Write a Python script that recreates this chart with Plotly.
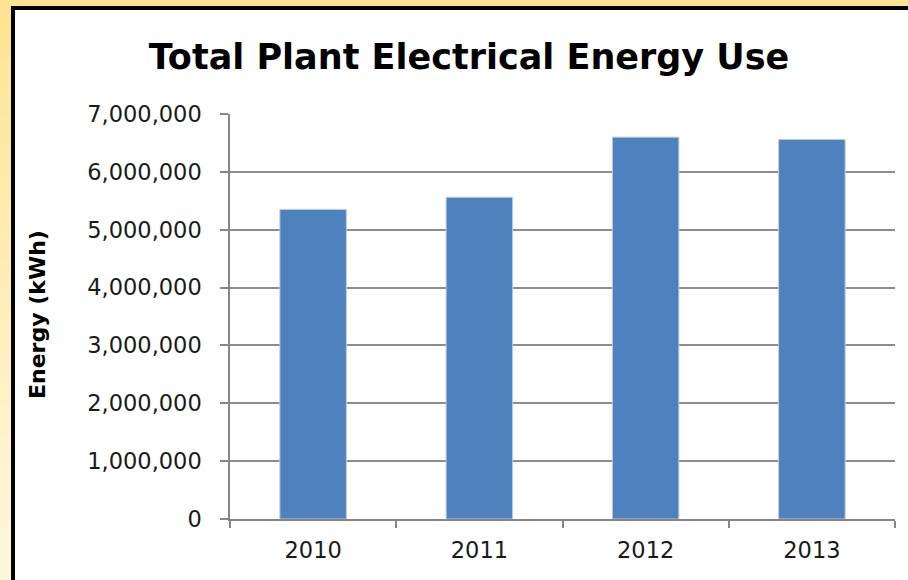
import plotly.graph_objects as go

years = ["2010", "2011", "2012", "2013"]
energy_kwh = [5350000, 5560000, 6600000, 6560000]
y_ticks = [0, 1000000, 2000000, 3000000, 4000000, 5000000, 6000000, 7000000]

W, H = 908, 580
L, R, T, B = 230, 895, 114, 519

def px(x):
    return (x - L) / (R - L)

def py(y):
    return (B - y) / (B - T)

fig = go.Figure(go.Bar(
    x=years, y=energy_kwh,
    marker=dict(color="#4F81BD", line=dict(color="#B9CDE5", width=1)),
    width=0.4,
))

shapes = []
n = 20
c0 = (254, 228, 146)
c1 = (255, 246, 222)
for i in range(n):
    t = i / (n - 1)
    c = tuple(int(round(c0[k] + (c1[k] - c0[k]) * t)) for k in range(3))
    y0 = i * H / n
    y1 = (i + 1) * H / n + 1
    shapes.append(dict(type="rect", xref="paper", yref="paper", layer="below",
                       x0=px(-5), x1=px(13), y0=py(y1), y1=py(y0),
                       fillcolor="rgb(%d,%d,%d)" % c, line=dict(width=0)))
shapes.append(dict(type="rect", xref="paper", yref="paper", layer="below",
                   x0=px(13), x1=px(W + 10), y0=py(H + 10), y1=py(8),
                   fillcolor="white", line=dict(width=0)))
shapes.append(dict(type="line", xref="paper", yref="paper", layer="below",
                   x0=px(11), x1=px(W + 10), y0=py(8), y1=py(8),
                   line=dict(color="black", width=4)))
shapes.append(dict(type="line", xref="paper", yref="paper", layer="below",
                   x0=px(13), x1=px(13), y0=py(6), y1=py(H + 10),
                   line=dict(color="black", width=4)))

fig.update_layout(
    width=W, height=H,
    margin=dict(l=L, r=W - R, t=T, b=H - B, pad=0),
    paper_bgcolor="#FEE492",
    plot_bgcolor="rgba(0,0,0,0)",
    showlegend=False,
    shapes=shapes,
    title=dict(text="<b>Total Plant Electrical Energy Use</b>",
               x=469 / W, xanchor="center", y=1 - 57 / H, yanchor="middle",
               yref="container", xref="container",
               font=dict(family="DejaVu Sans", size=35, color="black")),
    font=dict(family="DejaVu Sans", color="#1a1a1a"),
    annotations=[dict(text="<b>Energy (kWh)</b>", xref="paper", yref="paper",
                      x=px(37), y=py(315), textangle=-90, showarrow=False,
                      xanchor="center", yanchor="middle",
                      font=dict(family="DejaVu Sans", size=22, color="black"))],
    xaxis=dict(
        showgrid=False, showline=True, linecolor="#868686", linewidth=1.5,
        ticks="outside", tickson="boundaries", ticklen=7, tickcolor="#868686",
        tickwidth=1.5, tickfont=dict(size=22.5, color="#1a1a1a"),
        ticklabelstandoff=10, range=[-0.5, 3.5],
    ),
    yaxis=dict(
        range=[0, 7000000], tickvals=y_ticks, tickformat=",",
        showgrid=True, gridcolor="#8C8C8C", gridwidth=1.5,
        showline=True, linecolor="#868686", linewidth=1.5,
        ticks="outside", ticklen=8, tickcolor="#868686", tickwidth=1.5,
        tickfont=dict(size=22.5, color="#1a1a1a"), ticklabelstandoff=14,
        zeroline=False,
    ),
)

fig.write_html("out.html", config={"displayModeBar": False})
